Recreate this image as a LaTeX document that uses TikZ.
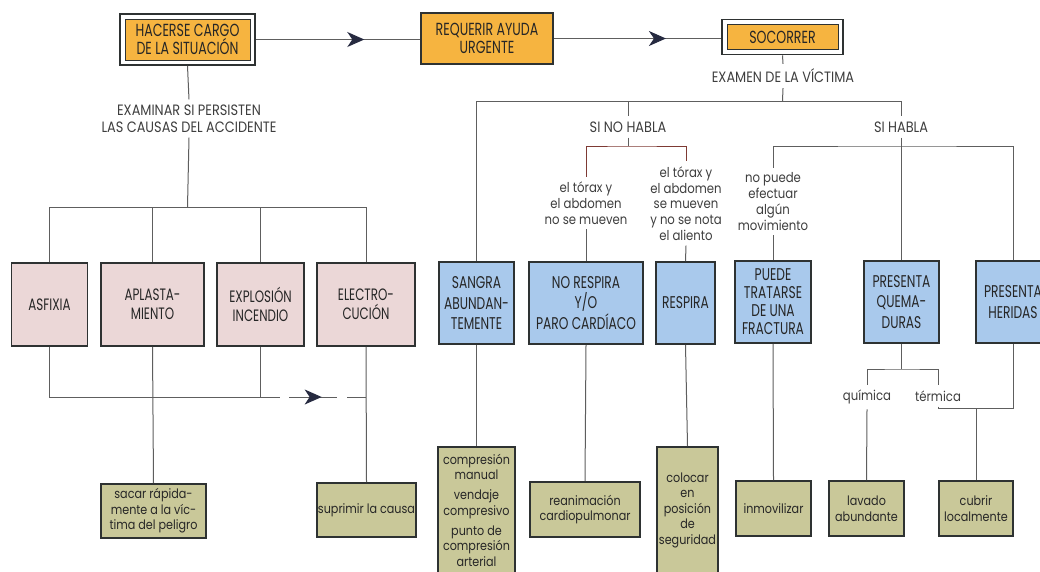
\documentclass[tikz,border=0pt]{standalone}
\usepackage{fontspec}
\setmainfont{Poppins}
\newfontfamily\capsf[FakeStretch=0.72]{Poppins}
\newfontfamily\labf[FakeStretch=0.86]{Poppins}
\usetikzlibrary{arrows.meta,decorations.markings}
\definecolor{orng}{HTML}{F6B440}
\definecolor{pnk}{HTML}{EBD7D7}
\definecolor{blu}{HTML}{A9C9EC}
\definecolor{kha}{HTML}{C9C899}
\definecolor{linec}{HTML}{5E5E5E}
\definecolor{boxline}{HTML}{2E3232}
\definecolor{txt}{HTML}{262626}
\definecolor{labc}{HTML}{3E3E3E}
\definecolor{arrc}{HTML}{262A40}
\definecolor{redl}{HTML}{7E3A34}
\begin{document}
\begin{tikzpicture}[x=1pt,y=-1pt,
  conn/.style={draw=linec, line width=1pt},
  midarrow/.style={postaction={decorate}, decoration={markings,
     mark=at position #1 with {\arrow[arrc]{Stealth[length=17pt,width=15pt,inset=5pt]}}}},
  boxbase/.style={draw=boxline, line width=1.8pt, align=center, inner sep=0pt, text=txt},
  outerbox/.style={draw=boxline, line width=1.8pt, fill=white, inner sep=0pt},
  head/.style={boxbase, fill=orng, font=\capsf\fontsize{17.5}{18}\selectfont},
  pinkbox/.style={boxbase, fill=pnk, minimum height=83pt, font=\capsf\fontsize{16.5}{19}\selectfont},
  bluebox/.style={boxbase, fill=blu, minimum height=82pt, font=\capsf\fontsize{17}{20.5}\selectfont},
  khabox/.style={boxbase, fill=kha, font=\labf\fontsize{13}{15.5}\selectfont},
  caplab/.style={align=center, text=labc, inner xsep=2pt, inner ysep=5pt, font=\labf\fontsize{15}{17}\selectfont},
  lowlab/.style={align=center, text=labc, inner xsep=2pt, inner ysep=5pt, font=\labf\fontsize{13.6}{15.7}\selectfont}
]
\useasboundingbox (0,0) rectangle (1040,571);
\fill[white] (0,0) rectangle (1040,571);
\clip (0,0) rectangle (1040,571);

% top row
\node[outerbox, minimum width=135pt, minimum height=51pt] (hcO) at (187.5,39.5) {};
\node[head, line width=0.8pt, minimum width=125pt, minimum height=41pt] (hc) at (187.5,39.5) {HACERSE CARGO\\DE LA SITUACIÓN};
\node[head, minimum width=132pt, minimum height=51pt] (req) at (487,38.5) {REQUERIR AYUDA\\URGENTE};
\node[outerbox, minimum width=121pt, minimum height=35pt] (socO) at (782.5,37) {};
\node[head, line width=0.8pt, minimum width=111pt, minimum height=25pt] (soc) at (782.5,37) {SOCORRER};

% labels
\node[caplab] (exam) at (783,76) {EXAMEN DE LA VÍCTIMA};
\node[caplab] (exam2) at (189,118.5) {EXAMINAR SI PERSISTEN\\LAS CAUSAS DEL ACCIDENTE};
\node[caplab] (sinohabla) at (628,127) {SI NO HABLA};
\node[caplab] (sihabla) at (901,127) {SI HABLA};
\node[lowlab] (tor1) at (586,203) {el tórax y\\el abdomen\\no se mueven};
\node[lowlab] (tor2) at (686,203.5) {el tórax y\\el abdomen\\se mueven\\y no se nota\\el aliento};
\node[lowlab] (mov) at (773,201.5) {no puede\\efectuar\\algún\\movimiento};
\node[lowlab] (quim) at (867,397) {química};
\node[lowlab] (term) at (938,396) {térmica};

% pink boxes
\node[pinkbox, minimum width=76pt] (asf) at (49.5,304.5) {ASFIXIA};
\node[pinkbox, minimum width=103pt] (apl) at (152.5,304.5) {APLASTA-\\MIENTO};
\node[pinkbox, minimum width=87pt] (expl) at (260.5,304.5) {EXPLOSIÓN\\INCENDIO};
\node[pinkbox, minimum width=98pt] (elec) at (366,304.5) {ELECTRO-\\CUCIÓN};

% blue boxes
\node[bluebox, minimum width=75pt] (sangra) at (476.5,303) {SANGRA\\ABUNDAN-\\TEMENTE};
\node[bluebox, minimum width=114pt] (norespira) at (586,303) {NO RESPIRA\\Y/O\\PARO CARDÍACO};
\node[bluebox, minimum width=59pt] (respira) at (685.5,303) {RESPIRA};
\node[bluebox, minimum width=76pt, font=\capsf\fontsize{17}{18}\selectfont] (puede) at (773,302) {PUEDE\\TRATARSE\\DE UNA\\FRACTURA};
\node[bluebox, minimum width=75pt] (quem) at (901.5,302) {PRESENTA\\QUEMA-\\DURAS};
\node[bluebox, minimum width=74pt] (heridas) at (1013,302) {PRESENTA\\HERIDAS};

% khaki boxes
\node[khabox, minimum width=105pt, minimum height=54pt] (sacar) at (153.5,511) {sacar rápida-\\mente a la víc-\\tima del peligro};
\node[khabox, minimum width=99pt, minimum height=54pt] (suprimir) at (366.5,510) {suprimir la causa};
\node[khabox, minimum width=77pt, minimum height=126pt] (comp) at (476.5,510) {compresión\\manual\\[4.5pt]vendaje\\compresivo\\[4.5pt]punto de\\compresión\\arterial};
\node[khabox, minimum width=110pt, minimum height=55pt] (reanim) at (585,509.5) {reanimación\\cardiopulmonar};
\node[khabox, minimum width=61pt, minimum height=126pt] (colocar) at (687.5,510) {colocar\\en\\posición\\de\\seguridad};
\node[khabox, minimum width=75pt, minimum height=55pt] (inmov) at (773.5,508.5) {inmovilizar};
\node[khabox, minimum width=75pt, minimum height=55pt] (lavado) at (866.5,508.5) {lavado\\abundante};
\node[khabox, minimum width=74pt, minimum height=55pt] (cubrir) at (976,508.5) {cubrir\\localmente};

% junction coordinates
\coordinate (jC) at (187.5,207);
\coordinate (g1) at (280,397);
\coordinate (g2) at (289,397);
\coordinate (g3) at (337,397);
\coordinate (g4) at (347,397);
\coordinate (jE) at (782.5,101);
\coordinate (jNH) at (628,101);
\coordinate (jH) at (901,101);
\coordinate (jNH2) at (628,146);
\coordinate (jH2) at (901,146);
\coordinate (jQ) at (901.5,369);
\coordinate (jT) at (1013,408);

% top arrows
\draw[conn, midarrow=0.66] (hcO.east) -- (hcO.east -| req.west);
\draw[conn, midarrow=0.67] (req.east) -- (req.east -| socO.west);

% left tree
\draw[conn] (hcO.south) -- (exam2.north);
\draw[conn] (exam2.south) -- (jC);
\draw[conn] (asf.north) -- (asf.north |- jC) -- (elec.north |- jC) -- (elec.north);
\draw[conn] (apl.north) -- (apl.north |- jC);
\draw[conn] (expl.north) -- (expl.north |- jC);
\draw[conn] (asf.south) |- (g1);
\draw[conn] (expl.south) -- (expl.south |- g1);
\draw[conn, midarrow=0.68] (g2) -- (g3);
\draw[conn] (g4) -- (g4 -| elec.south);
\draw[conn] (apl.south) -- (sacar.north);
\draw[conn] (elec.south) -- (suprimir.north);

% right tree
\draw[conn] (socO.south) -- (exam.north);
\draw[conn] (exam.south) -- (jE);
\draw[conn] (sangra.north) |- (jH);
\draw[conn] (jNH) -- (sinohabla.north);
\draw[conn] (sinohabla.south) -- (jNH2);
\draw[conn, draw=redl] (tor1.north) |- (jNH2) -| (tor2.north);
\draw[conn] (tor1.south) -- (norespira.north);
\draw[conn] (tor2.south) -- (respira.north);
\draw[conn] (jH) -- (sihabla.north);
\draw[conn] (sihabla.south) -- (jH2);
\draw[conn] (mov.north) |- (jH2) -| (heridas.north);
\draw[conn] (jH2) -- (jH2 |- quem.north);
\draw[conn] (mov.south) -- (puede.north);
\draw[conn] (sangra.south) -- (comp.north);
\draw[conn] (norespira.south) -- (reanim.north);
\draw[conn] (respira.south) -- (colocar.north);
\draw[conn] (puede.south) -- (inmov.north);
\draw[conn] (quem.south) -- (jQ);
\draw[conn] (quim.north) |- (jQ) -| (term.north);
\draw[conn] (quim.south) -- (lavado.north);
\draw[conn] (term.south) |- (jT) -- (heridas.south);
\draw[conn] (cubrir.north) -- (cubrir.north |- jT);
\end{tikzpicture}
\end{document}
